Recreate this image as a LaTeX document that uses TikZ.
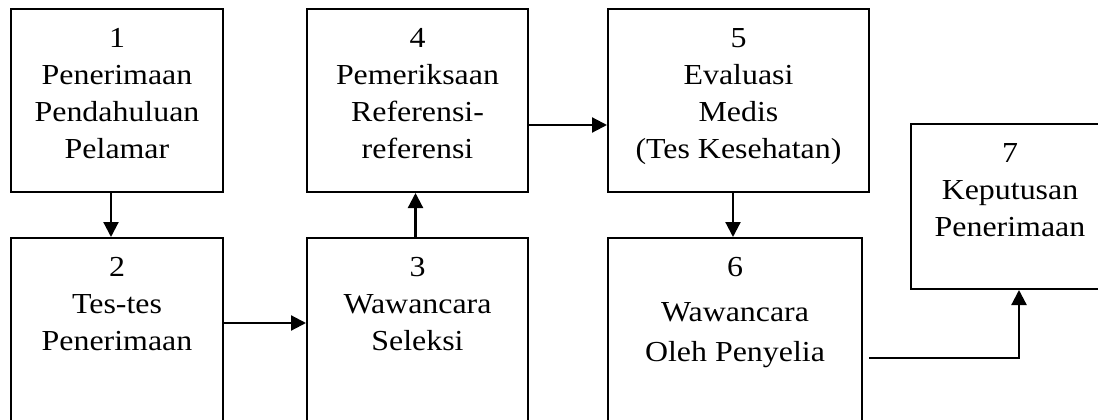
\documentclass[tikz,border=0pt]{standalone}
\usepackage{fontspec}
\setmainfont{Liberation Serif}[FakeStretch=1.1]
\usetikzlibrary{arrows.meta,positioning,calc}

\begin{document}
\begin{tikzpicture}[x=1pt,y=-1pt,
  block/.style={draw,line width=2pt,rectangle,inner sep=0pt},
  stagetext/.style={anchor=north,align=center,inner sep=0pt,font=\fontsize{29}{37}\selectfont},
  flow/.style={-{Triangle[length=15pt,width=15pt]},line width=2.2pt}]
\useasboundingbox (0,0) rectangle (1098,420);
\clip (0,0) rectangle (1098,420);
% upper row
\node[block,minimum width=212pt,minimum height=183pt] (s1) at (117,100.5) {};
\node[block,minimum width=221pt,minimum height=183pt] (s4) at (417.5,100.5) {};
\node[block,minimum width=261pt,minimum height=183pt] (s5) at (738.5,100.5) {};
% lower row (runs past the bottom edge)
\node[block,minimum width=212pt,minimum height=202pt] (s2) at (117,339) {};
\node[block,minimum width=221pt,minimum height=202pt] (s3) at (417.5,339) {};
\node[block,minimum width=254pt,minimum height=202pt] (s6) at (735,339) {};
\node[block,minimum width=198pt,minimum height=165pt] (s7) at (1010,206.5) {};
% texts
\node[stagetext] (t1) at ([yshift=-20pt]s1.north) {1\\Penerimaan\\Pendahuluan\\Pelamar};
\node[stagetext] (t2) at ([yshift=-20pt]s2.north) {2\\Tes-tes\\Penerimaan};
\node[stagetext] (t3) at ([yshift=-20pt]s3.north) {3\\Wawancara\\Seleksi};
\node[stagetext] (t4) at ([yshift=-20pt]s4.north) {4\\Pemeriksaan\\Referensi-\\referensi};
\node[stagetext] (t5) at ([yshift=-20pt]s5.north) {5\\Evaluasi\\Medis\\(Tes Kesehatan)};
\node[stagetext] (t6) at ([yshift=-20pt]s6.north) {6\\[8pt]Wawancara\\[3pt]Oleh Penyelia};
\node[stagetext] (t7) at ([yshift=-20pt]s7.north) {7\\Keputusan\\Penerimaan};
% arrows
\draw[flow] ([xshift=-6pt]s1.south) -- ([xshift=-6pt]s1.south |- s2.north);
\draw[flow] ([yshift=16pt]s2.east) -- ([yshift=16pt]s2.east -| s3.west);
\draw[flow] ([xshift=-2pt]s3.north) -- ([xshift=-2pt]s3.north |- s4.south);
\draw[flow] ([yshift=-24.5pt]s4.east) -- ([yshift=-24.5pt]s4.east -| s5.west);
\draw[flow] ([xshift=-5.5pt]s5.south) -- ([xshift=-5.5pt]s5.south |- s6.north);
\draw[flow] ([xshift=6pt,yshift=-19pt]s6.east) -| ([xshift=9pt]s7.south);
\end{tikzpicture}
\end{document}
